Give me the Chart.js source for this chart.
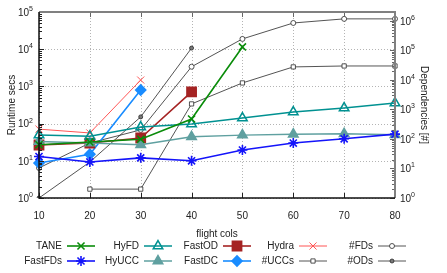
<!DOCTYPE html>
<html>
<head>
<meta charset="utf-8">
<script src="https://cdn.jsdelivr.net/npm/chart.js@4"></script>
<style>
html, body { margin: 0; padding: 0; background: #fff; }
</style>
</head>
<body>
<canvas id="myChart" width="447" height="273"></canvas>
<script>
var cols = ["10", "20", "30", "40", "50", "60", "70", "80"];

// runtime secs (left axis)
var tane    = [27, 32, 38, 133, 11500, null, null, null];
var fastFDs = [13, 9.3, 12, 10, 19.5, 30, 39, 52];
var hyFD    = [49, 46, 81, 97, 141, 205, 262, 357];
var hyUCC   = [33, 30, 27, 44, 49, 52, 53, 50];
var fastOD  = [26.6, 30, 41, 710, null, null, null, null];
var fastDC  = [8.7, 15, 800, null, null, null, null, null];
var hydra   = [71, 56, 1480, null, null, null, null, null];

// dependencies [#] (right axis)
var numUCCs = [null, 2, 2, 1540, 7900, 27600, 29700, 29700];
var numFDs  = [10.4, 73, 203, 28000, 245000, 850000, 1170000, 1170000];
var numODs  = [1, 16.6, 560, 120000, null, null, null, null];

var leftTicks = [1, 10, 100, 1000, 10000, 100000];
var rightTicks = [1, 10, 100, 1000, 10000, 100000, 1000000];

var font = "'Liberation Sans', Arial, sans-serif";

function ds(label, data, color, style, radius, width, fill, axis) {
  return {
    label: label,
    data: data,
    yAxisID: axis || "y",
    borderColor: color,
    borderWidth: width,
    pointStyle: style,
    pointRadius: radius,
    pointHoverRadius: radius,
    pointBorderColor: color,
    pointBorderWidth: width,
    pointBackgroundColor: fill,
    backgroundColor: fill,
    fill: false,
    tension: 0,
  };
}

var datasets = [
  ds("TANE", tane, "rgb(10,140,10)", "crossRot", 5, 1.6, "rgb(10,140,10)"),
  ds("FastFDs", fastFDs, "rgb(20,20,250)", "star", 5, 1.6, "rgb(20,20,250)"),
  ds("HyFD", hyFD, "rgb(0,145,145)", "triangle", 5.5, 1.5, "rgba(255,255,255,0)"),
  ds("HyUCC", hyUCC, "rgb(95,160,160)", "triangle", 5.5, 1.5, "rgb(95,160,160)"),
  ds("FastOD", fastOD, "rgb(165,35,35)", "rect", 6.5, 1.6, "rgb(165,35,35)"),
  ds("FastDC", fastDC, "rgb(25,140,255)", "rectRot", 5, 1.6, "rgb(25,140,255)"),
  ds("Hydra", hydra, "rgb(255,85,85)", "crossRot", 5, 1, "rgb(255,85,85)"),
  ds("#UCCs", numUCCs, "rgb(40,40,40)", "rect", 3, 0.8, "#fff", "y2"),
  ds("#FDs", numFDs, "rgb(40,40,40)", "circle", 2.5, 0.8, "#fff", "y2"),
  ds("#ODs", numODs, "rgb(40,40,40)", "circle", 2, 0.8, "rgb(120,120,120)", "y2"),
];

// "10" with a raised exponent, right or left aligned at x
function drawPow(ctx, v, x, y, align) {
  var n = String(Math.round(Math.log10(v)));
  ctx.font = "10px " + font;
  var wb = ctx.measureText("10").width;
  ctx.font = "7px " + font;
  var we = ctx.measureText(n).width;
  var x0 = align === "right" ? x - wb - we : x;
  ctx.textAlign = "left";
  ctx.textBaseline = "middle";
  ctx.font = "10px " + font;
  ctx.fillText("10", x0, y + 1);
  ctx.font = "7px " + font;
  ctx.fillText(n, x0 + wb, y - 3);
}

// gnuplot style frame, dotted grid and inward ticks
var framePlugin = {
  id: "frame",
  beforeDatasetsDraw: function (chart) {
    var a = chart.chartArea, ctx = chart.ctx;
    var x = chart.scales.x, y = chart.scales.y;
    ctx.save();
    ctx.strokeStyle = "#b4b4b4";
    ctx.lineWidth = 1;
    ctx.setLineDash([1, 2]);
    ctx.beginPath();
    x.ticks.forEach(function (t, i) {
      var px = Math.round(x.getPixelForTick(i)) + 0.5;
      ctx.moveTo(px, a.top);
      ctx.lineTo(px, a.bottom);
    });
    leftTicks.forEach(function (v) {
      var py = Math.round(y.getPixelForValue(v)) + 0.5;
      ctx.moveTo(a.left, py);
      ctx.lineTo(a.right, py);
    });
    ctx.stroke();
    ctx.restore();
  },
  afterDatasetsDraw: function (chart) {
    var a = chart.chartArea, ctx = chart.ctx;
    var x = chart.scales.x, y = chart.scales.y, y2 = chart.scales.y2;
    ctx.save();
    ctx.lineWidth = 1;
    ctx.beginPath();
    ctx.strokeStyle = "#222";
    x.ticks.forEach(function (t, i) {
      var px = Math.round(x.getPixelForTick(i)) + 0.5;
      ctx.moveTo(px, a.bottom); ctx.lineTo(px, a.bottom - 5);
    });
    leftTicks.forEach(function (d) {
      var py = Math.round(y.getPixelForValue(d)) + 0.5;
      ctx.moveTo(a.left, py); ctx.lineTo(a.left + 5, py);
      if (d >= 100000) return;
      for (var k = 2; k < 10; k++) {
        var pm = Math.round(y.getPixelForValue(d * k)) + 0.5;
        ctx.moveTo(a.left, pm); ctx.lineTo(a.left + 3, pm);
      }
    });
    ctx.stroke();
    ctx.beginPath();
    ctx.strokeStyle = "#666";
    x.ticks.forEach(function (t, i) {
      var px = Math.round(x.getPixelForTick(i)) + 0.5;
      ctx.moveTo(px, a.top); ctx.lineTo(px, a.top + 5);
    });
    rightTicks.forEach(function (d) {
      var py = Math.round(y2.getPixelForValue(d)) + 0.5;
      ctx.moveTo(a.right, py); ctx.lineTo(a.right - 5, py);
      for (var k = 2; k < 10; k++) {
        if (d * k > y2.max) break;
        var pm = Math.round(y2.getPixelForValue(d * k)) + 0.5;
        ctx.moveTo(a.right, pm); ctx.lineTo(a.right - 3, pm);
      }
    });
    ctx.stroke();
    // frame
    ctx.lineWidth = 2;
    ctx.strokeStyle = "#808080";
    ctx.beginPath();
    ctx.moveTo(a.left, a.top); ctx.lineTo(a.right, a.top); ctx.lineTo(a.right, a.bottom);
    ctx.stroke();
    ctx.lineWidth = 1.5;
    ctx.strokeStyle = "#111";
    ctx.beginPath();
    ctx.moveTo(a.left, a.top); ctx.lineTo(a.left, a.bottom); ctx.lineTo(a.right, a.bottom);
    ctx.stroke();
    // log tick labels
    ctx.fillStyle = "#222";
    leftTicks.forEach(function (v) {
      drawPow(ctx, v, a.left - 6, y.getPixelForValue(v), "right");
    });
    rightTicks.forEach(function (v) {
      drawPow(ctx, v, a.right + 5, y2.getPixelForValue(v), "left");
    });
    ctx.restore();
  },
};

// legend: label on the left, line sample on the right, filled column-wise
var legendX = [62, 139, 218, 294, 373];
var legendY = [246, 261];
var legendPlugin = {
  id: "gnuLegend",
  afterDraw: function (chart) {
    var ctx = chart.ctx;
    ctx.save();
    ctx.font = "10px " + font;
    ctx.textAlign = "right";
    ctx.textBaseline = "middle";
    chart.data.datasets.forEach(function (d, i) {
      var x = legendX[Math.floor(i / 2)];
      var y = legendY[i % 2];
      ctx.fillStyle = "#222";
      ctx.fillText(d.label, x, y);
      ctx.strokeStyle = d.borderColor;
      ctx.lineWidth = d.borderWidth;
      ctx.beginPath();
      ctx.moveTo(x + 5, y);
      ctx.lineTo(x + 33, y);
      ctx.stroke();
      ctx.fillStyle = d.pointBackgroundColor;
      if (Chart.helpers && Chart.helpers.drawPoint) {
        Chart.helpers.drawPoint(ctx, {
          pointStyle: d.pointStyle,
          radius: d.pointRadius,
          rotation: 0,
          borderWidth: d.pointBorderWidth,
        }, x + 19, y);
      }
    });
    ctx.restore();
  },
};

var ctx = document.getElementById("myChart");
var myChart = new Chart(ctx, {
  type: "line",
  data: { labels: cols, datasets: datasets },
  plugins: [framePlugin, legendPlugin],
  options: {
    responsive: false,
    animation: false,
    layout: { padding: { top: 12, bottom: 33, left: 0, right: 17 } },
    plugins: { legend: { display: false }, tooltip: { enabled: false } },
    scales: {
      x: {
        type: "category",
        offset: false,
        grid: { display: false },
        border: { display: false },
        ticks: { color: "#222", font: { family: font, size: 10 }, padding: 4, maxRotation: 0 },
        title: { display: true, text: "flight cols", color: "#222", font: { family: font, size: 10 }, padding: 0 },
        afterFit: function (s) { s.height = 42; },
      },
      y: {
        type: "logarithmic",
        position: "left",
        min: 1,
        max: 100000,
        grid: { display: false },
        border: { display: false },
        afterBuildTicks: function (s) { s.ticks = leftTicks.map(function (v) { return { value: v }; }); },
        ticks: { display: false },
        title: { display: true, text: "Runtime secs", color: "#222", font: { family: font, size: 10 }, padding: { top: 6, bottom: 0 } },
        afterFit: function (s) { s.width = 39; },
      },
      y2: {
        type: "logarithmic",
        position: "right",
        min: 1,
        max: 2000000,
        grid: { display: false },
        border: { display: false },
        afterBuildTicks: function (s) { s.ticks = rightTicks.map(function (v) { return { value: v }; }); },
        ticks: { display: false },
        title: { display: true, text: "Dependencies [#]", color: "#222", font: { family: font, size: 10 }, padding: { top: 0, bottom: 0 } },
        afterFit: function (s) { s.width = 35; },
      },
    },
  },
});
</script>
</body>
</html>
